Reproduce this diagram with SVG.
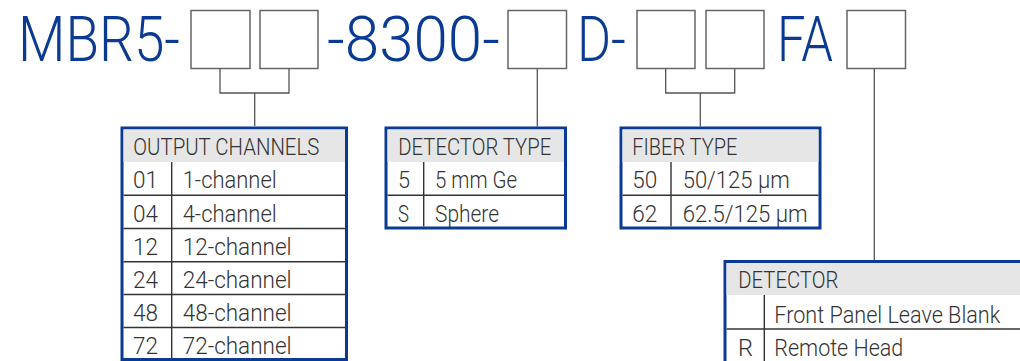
<svg xmlns="http://www.w3.org/2000/svg" width="1020" height="361" viewBox="0 0 1020 361">
<style>
.title{font-family:Roboto,"Liberation Sans",sans-serif;font-weight:300;font-size:63px;fill:#0b3a93}
.slot{fill:#fff;stroke:#666;stroke-width:1.5}
.conn{fill:none;stroke:#555;stroke-width:1.3}
.frame{fill:#fff;stroke:#0b3a93;stroke-width:3}
.head{fill:#e6e6e6}
.rule{stroke:#333;stroke-width:1.4}
.t{font-family:Roboto,"Liberation Sans",sans-serif;font-weight:300;font-size:23px;fill:#333}
</style>
<rect width="1020" height="361" fill="#fff"/>
<g id="part-number">
<text class="title" x="18" y="60.5" textLength="162" lengthAdjust="spacingAndGlyphs">MBR5-</text>
<text class="title" x="327" y="60.5" textLength="173" lengthAdjust="spacingAndGlyphs">-8300-</text>
<text class="title" x="577" y="60.5" textLength="49" lengthAdjust="spacingAndGlyphs">D-</text>
<text class="title" x="777" y="60.5" textLength="56" lengthAdjust="spacingAndGlyphs">FA</text>
<rect class="slot" x="191" y="10.5" width="59" height="58"/>
<rect class="slot" x="260" y="10.5" width="58" height="58"/>
<rect class="slot" x="508" y="10.5" width="58.5" height="58"/>
<rect class="slot" x="637" y="10.5" width="58" height="58"/>
<rect class="slot" x="706" y="10.5" width="58" height="58"/>
<rect class="slot" x="847" y="10.5" width="58.5" height="58"/>
</g>
<g id="connectors">
<path class="conn" d="M220 68.5V93H289V68.5M254.7 93V126"/>
<path class="conn" d="M537.3 68.5V126.5"/>
<path class="conn" d="M665.7 68.5V93H734.7V68.5M700.3 93V126.5"/>
<path class="conn" d="M874.3 68.5V260"/>
</g>
<g id="output-channels">
<rect class="frame" x="122" y="128" width="224.5" height="231.5"/>
<rect class="head" x="123.5" y="129.5" width="221.5" height="32.5"/>
<line class="rule" x1="171.7" y1="162" x2="171.7" y2="358"/>
<line class="rule" x1="123.5" y1="195.3" x2="345" y2="195.3"/>
<line class="rule" x1="123.5" y1="228.5" x2="345" y2="228.5"/>
<line class="rule" x1="123.5" y1="261.7" x2="345" y2="261.7"/>
<line class="rule" x1="123.5" y1="294.5" x2="345" y2="294.5"/>
<line class="rule" x1="123.5" y1="327.5" x2="345" y2="327.5"/>
<text class="t" x="133.3" y="155" textLength="186" lengthAdjust="spacingAndGlyphs">OUTPUT CHANNELS</text>
<text class="t" x="133" y="188.3" textLength="25" lengthAdjust="spacingAndGlyphs">01</text>
<text class="t" x="182.7" y="188.3" textLength="94" lengthAdjust="spacingAndGlyphs">1-channel</text>
<text class="t" x="133" y="221.5" textLength="25" lengthAdjust="spacingAndGlyphs">04</text>
<text class="t" x="182.7" y="221.5" textLength="94" lengthAdjust="spacingAndGlyphs">4-channel</text>
<text class="t" x="133" y="254.6" textLength="25" lengthAdjust="spacingAndGlyphs">12</text>
<text class="t" x="182.7" y="254.6" textLength="109" lengthAdjust="spacingAndGlyphs">12-channel</text>
<text class="t" x="133" y="287.8" textLength="25" lengthAdjust="spacingAndGlyphs">24</text>
<text class="t" x="182.7" y="287.8" textLength="109" lengthAdjust="spacingAndGlyphs">24-channel</text>
<text class="t" x="133" y="320.9" textLength="25" lengthAdjust="spacingAndGlyphs">48</text>
<text class="t" x="182.7" y="320.9" textLength="109" lengthAdjust="spacingAndGlyphs">48-channel</text>
<text class="t" x="133" y="354" textLength="25" lengthAdjust="spacingAndGlyphs">72</text>
<text class="t" x="182.7" y="354" textLength="109" lengthAdjust="spacingAndGlyphs">72-channel</text>
</g>
<g id="detector-type">
<rect class="frame" x="386" y="128" width="179.5" height="100"/>
<rect class="head" x="387.5" y="129.5" width="176.5" height="32.5"/>
<line class="rule" x1="423.7" y1="162" x2="423.7" y2="226.5"/>
<line class="rule" x1="387.5" y1="195.3" x2="564" y2="195.3"/>
<text class="t" x="398.3" y="155" textLength="153" lengthAdjust="spacingAndGlyphs">DETECTOR TYPE</text>
<text class="t" x="398" y="188.3" textLength="12" lengthAdjust="spacingAndGlyphs">5</text>
<text class="t" x="435" y="188.3" textLength="82" lengthAdjust="spacingAndGlyphs">5 mm Ge</text>
<text class="t" x="398" y="221.5" textLength="11" lengthAdjust="spacingAndGlyphs">S</text>
<text class="t" x="435" y="221.5" textLength="64" lengthAdjust="spacingAndGlyphs">Sphere</text>
</g>
<g id="fiber-type">
<rect class="frame" x="621" y="128" width="199" height="100"/>
<rect class="head" x="622.5" y="129.5" width="196" height="32.5"/>
<line class="rule" x1="671" y1="162" x2="671" y2="226.5"/>
<line class="rule" x1="622.5" y1="195.3" x2="818.5" y2="195.3"/>
<text class="t" x="632.3" y="155" textLength="105" lengthAdjust="spacingAndGlyphs">FIBER TYPE</text>
<text class="t" x="632.3" y="188.3" textLength="25" lengthAdjust="spacingAndGlyphs">50</text>
<text class="t" x="682.7" y="188.3" textLength="107" lengthAdjust="spacingAndGlyphs">50/125 µm</text>
<text class="t" x="632.3" y="221.5" textLength="25" lengthAdjust="spacingAndGlyphs">62</text>
<text class="t" x="682.7" y="221.5" textLength="125" lengthAdjust="spacingAndGlyphs">62.5/125 µm</text>
</g>
<g id="detector">
<rect class="frame" x="725" y="261.5" width="310" height="110"/>
<rect class="head" x="726.5" y="263" width="300" height="32"/>
<line class="rule" x1="764.3" y1="295" x2="764.3" y2="361"/>
<line class="rule" x1="726.5" y1="329" x2="1020" y2="329"/>
<text class="t" x="738.3" y="288.3" textLength="100" lengthAdjust="spacingAndGlyphs">DETECTOR</text>
<text class="t" x="774.3" y="322.7" textLength="226" lengthAdjust="spacingAndGlyphs">Front Panel Leave Blank</text>
<text class="t" x="738" y="355.5" textLength="15" lengthAdjust="spacingAndGlyphs">R</text>
<text class="t" x="774.3" y="355.5" textLength="129" lengthAdjust="spacingAndGlyphs">Remote Head</text>
</g>
</svg>
